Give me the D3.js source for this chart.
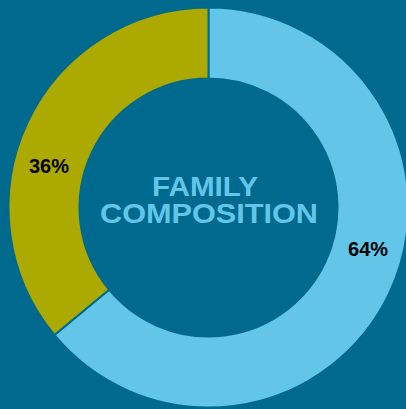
<!DOCTYPE html>
<html><head><meta charset="utf-8">
<script src="https://cdn.jsdelivr.net/npm/d3@7"></script>
<style>html,body{margin:0;padding:0;background:#006a8e;overflow:hidden}</style>
</head><body>
<svg id="chart" width="406" height="409"></svg>
<script>
const categories = ["Group A", "Group B"];
const values = [64, 36];
const labels = ["64%", "36%"];
const colors = ["#63c6e9", "#aca900"];
const titleLines = ["FAMILY", "COMPOSITION"];

const W = 406, H = 409;
const cx = 208.5, cy = 207.5, rOuter = 200, rInner = 129;
const svg = d3.select("#chart");
svg.append("rect").attr("width", W).attr("height", H).attr("fill", "#006a8e");
const g = svg.append("g").attr("transform", `translate(${cx},${cy})`);

const pie = d3.pie().sort(null).value(d => d)(values);
const arc = d3.arc().innerRadius(rInner).outerRadius(rOuter);
g.selectAll("path.slice").data(pie).join("path")
  .attr("class", "slice")
  .attr("d", arc)
  .attr("fill", (d, i) => colors[i])
  .attr("stroke", "#006a8e")
  .attr("stroke-width", 2);

const shift = -10.5 * Math.PI / 180;
const labelArc = d3.arc().innerRadius(165).outerRadius(165);
g.selectAll("text.lbl").data(pie).join("text")
  .attr("class", "lbl")
  .attr("transform", d => {
    const c = labelArc.centroid({startAngle: d.startAngle + shift, endAngle: d.endAngle + shift});
    return `translate(${c[0]},${c[1]})`;
  })
  .attr("text-anchor", "middle")
  .attr("dy", "0.35em")
  .attr("font-family", "Liberation Sans, Arial, sans-serif")
  .attr("font-weight", "bold")
  .attr("font-size", 20)
  .attr("fill", "#000")
  .text((d, i) => labels[i]);

const titleX = [-3.5, 0.5];
const titleW = [106, 218];
g.selectAll("text.title").data(titleLines).join("text")
  .attr("class", "title")
  .attr("text-anchor", "middle")
  .attr("font-family", "Liberation Sans, Arial, sans-serif")
  .attr("font-weight", "bold")
  .attr("font-size", 27)
  .attr("fill", "#63c6e9")
  .attr("x", (d, i) => titleX[i])
  .attr("y", (d, i) => -11.5 + i * 27)
  .attr("textLength", (d, i) => titleW[i])
  .attr("lengthAdjust", "spacingAndGlyphs")
  .text(d => d);
</script>
</body></html>
